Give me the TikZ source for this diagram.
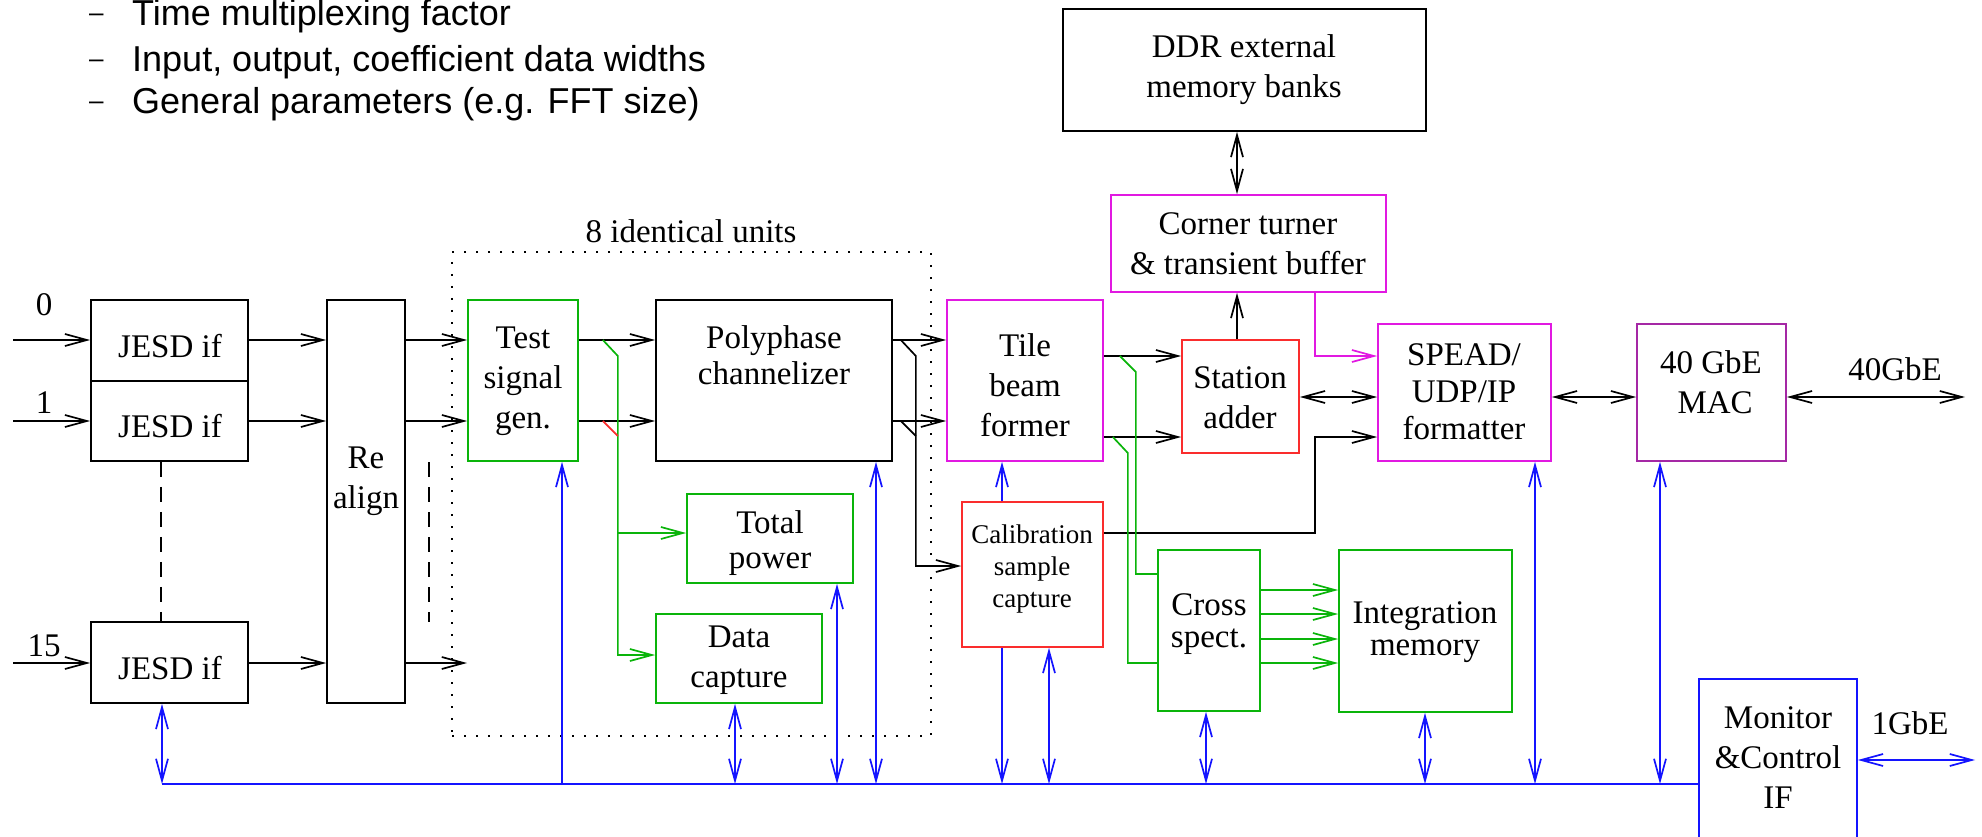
\documentclass[tikz,border=0pt]{standalone}
\usepackage{fontspec}
\setmainfont{Liberation Serif}
\newfontfamily\sansf{Liberation Sans}
\usetikzlibrary{arrows.meta,fit,calc}
\definecolor{xgreen}{RGB}{10,180,10}
\definecolor{xred}{RGB}{250,45,45}
\definecolor{xmag}{RGB}{225,25,225}
\definecolor{xpurp}{RGB}{165,40,165}
\definecolor{xblue}{RGB}{20,20,255}
\begin{document}
\begin{tikzpicture}[x=1pt,y=-1pt,
  box/.style={draw,inner sep=0pt,line width=1.7pt},
  lbl/.style={font=\fontsize{33}{40}\selectfont,align=center,inner sep=0pt,anchor=base},
  dsh/.style={anchor=base west,inner sep=0pt,font=\sansf\fontsize{26}{28}\selectfont},
  wire/.style={line width=1.7pt},
  >={Straight Barb[length=22pt,width=12pt]},
]
\useasboundingbox (0,0) rectangle (1982,837);
\clip (0,0) rectangle (1982,837);

% top text
\node[dsh] (d1) at (89,26) {\raisebox{4pt}{–}};
\node[dsh] (d2) at (89,72) {\raisebox{4pt}{–}};
\node[dsh] (d3) at (89,114) {\raisebox{4pt}{–}};
\node[anchor=base west,inner sep=0pt,font=\sansf\fontsize{36}{40}\selectfont] (t1) at (132,26) {Time multiplexing factor};
\node[anchor=base west,inner sep=0pt,font=\sansf\fontsize{36}{40}\selectfont] (t2) at (132,72) {Input, output, coefficient data widths};
\node[anchor=base west,inner sep=0pt,font=\sansf\fontsize{36}{40}\selectfont] (t3) at (132,114) {General parameters (e.g. FFT size)};

% boxes
\node[box,fit={(91,300)(248,381)}] (j0) {};
\node[box,fit={(91,381)(248,461)}] (j1) {};
\node[box,fit={(91,622)(248,703)}] (j15) {};
\node[box,fit={(327,300)(405,703)}] (ra) {};
\node[box,draw=xgreen,fit={(468,300)(578,461)}] (tsg) {};
\node[box,fit={(656,300)(892,461)}] (pc) {};
\node[box,draw=xgreen,fit={(687,494)(853,583)}] (tp) {};
\node[box,draw=xgreen,fit={(656,614)(822,703)}] (dc) {};
\node[box,draw=xmag,fit={(947,300)(1103,461)}] (tbf) {};
\node[box,draw=xred,fit={(962,502)(1103,647)}] (cal) {};
\node[box,draw=xred,fit={(1182,340)(1299,453)}] (sa) {};
\node[box,draw=xmag,fit={(1111,195)(1386,292)}] (ct) {};
\node[box,fit={(1063,9)(1426,131)}] (ddr) {};
\node[box,draw=xmag,fit={(1378,324)(1551,461)}] (sp) {};
\node[box,draw=xpurp,fit={(1637,324)(1786,461)}] (mac) {};
\node[box,draw=xgreen,fit={(1158,550)(1260,711)}] (cs) {};
\node[box,draw=xgreen,fit={(1339,550)(1512,712)}] (im) {};
\node[box,draw=xblue,fit={(1699,679)(1857,880)}] (mc) {};
\node[draw,inner sep=0pt,line width=2pt,dash pattern=on 2pt off 10pt,fit={(452,252)(931,736)}] (grp) {};

% texts (anchor = baseline of last line)
\node[lbl] (tj0) at (170,357) {JESD if};
\node[lbl] (tj1) at (170,437) {JESD if};
\node[lbl] (tj15) at (170,679) {JESD if};
\node[lbl] (tra) at (366,508) {Re\\align};
\node[lbl,font=\fontsize{33}{40}\selectfont] (ttsg) at (523,428) {Test\\signal\\gen.};
\node[lbl,font=\fontsize{33}{36}\selectfont] (tpc) at (774,384) {Polyphase\\channelizer};
\node[lbl,font=\fontsize{33}{35}\selectfont] (ttp) at (770,568) {Total\\power};
\node[lbl] (tdc) at (739,687) {Data\\capture};
\node[lbl] (ttbf) at (1025,436) {Tile\\beam\\former};
\node[lbl,font=\fontsize{27}{32}\selectfont] (tcal) at (1032,607) {Calibration\\sample\\capture};
\node[lbl] (tsa) at (1240,428) {Station\\adder};
\node[lbl] (tct) at (1248,275) {Corner turner\\\& transient buffer};
\node[lbl] (tddr) at (1244,98) {DDR external\\memory banks};
\node[lbl,font=\fontsize{33}{37}\selectfont] (tsp) at (1464,439) {SPEAD/\\UDP/IP\\formatter};
\node[lbl] (tmac) at (1711,413) {40 GbE\\\ MAC};
\node[lbl,font=\fontsize{33}{32}\selectfont] (tcs) at (1209,647) {Cross\\spect.};
\node[lbl,font=\fontsize{33}{32}\selectfont] (tim) at (1425,655) {Integration\\memory};
\node[lbl] (tmc) at (1778,808) {Monitor\\\&Control\\IF};
\node[lbl] (l0) at (44,316) {0};
\node[lbl] (l1) at (44,413) {1};
\node[lbl] (l15) at (44,656) {15};
\node[lbl] (lg) at (691,243) {8 identical units};
\node[lbl] (l40) at (1895,380) {40GbE};
\node[lbl] (l1g) at (1910,734) {1GbE};

% coordinates
\coordinate (i0) at (13,340);
\coordinate (i1) at (13,421);
\coordinate (i15) at (13,663);
\coordinate (o15) at (467,663);
\coordinate (cin) at (0,566);
\coordinate (gd) at (0,655);
\coordinate (gt) at (617,533);
\coordinate (b1) at (0,356);
\coordinate (b2) at (0,437);
\coordinate (c1) at (0,574);
\coordinate (c4) at (0,663);
\coordinate (vx) at (1237,0);
\coordinate (m) at (0,397);
\coordinate (out40) at (1965,397);
\coordinate (k) at (1315,533);
\coordinate (dd1) at (429,462);
\coordinate (dd2) at (429,622);

% black data paths
\draw[wire,->] (i0) -- (i0 -| j0.west);
\draw[wire,->] (i1) -- (i1 -| j1.west);
\draw[wire,->] (i15) -- (i15 -| j15.west);
\draw[wire,->] (i0 -| j0.east) -- (i0 -| ra.west);
\draw[wire,->] (i1 -| j1.east) -- (i1 -| ra.west);
\draw[wire,->] (i15 -| j15.east) -- (i15 -| ra.west);
\draw[wire,->] (i0 -| ra.east) -- (i0 -| tsg.west);
\draw[wire,->] (i1 -| ra.east) -- (i1 -| tsg.west);
\draw[wire,->] (i15 -| ra.east) -- (o15);
\draw[wire,dash pattern=on 15pt off 10pt] ($(j1.south west)+(71,0)$) -- ($(j15.north west)+(71,0)$);
\draw[wire,dash pattern=on 15pt off 10pt] (dd1) -- (dd2);
\draw[wire,->] (i0 -| tsg.east) -- (i0 -| pc.west);
\draw[wire,->] (i1 -| tsg.east) -- (i1 -| pc.west);
\draw[wire,->] (i0 -| pc.east) -- (i0 -| tbf.west);
\draw[wire,->] (i1 -| pc.east) -- (i1 -| tbf.west);
\draw[wire,->] ($(i0 -| pc.east)+(8,0)$) -- ++(15,16) -- ++(0,210) -- (cal.west |- cin);
\draw[wire] ($(i1 -| pc.east)+(8,0)$) -- ++(15,15);
\draw[wire,->] (tbf.east |- b1) -- (sa.west |- b1);
\draw[wire,->] (tbf.east |- b2) -- (sa.west |- b2);
\draw[wire,->] (vx |- sa.north) -- (vx |- ct.south);
\draw[wire,<->] (vx |- ddr.south) -- (vx |- ct.north);
\draw[wire,<->] (sa.east |- m) -- (sp.west |- m);
\draw[wire,<->] (sp.east |- m) -- (mac.west |- m);
\draw[wire,<->] (mac.east |- m) -- (out40);
\draw[wire,->] (cal.east |- k) -- (k) -- (k |- b2) -- (sp.west |- b2);
\draw[wire,xmag,->] (k |- ct.south) -- (k |- b1) -- (sp.west |- b1);

% green / red paths
\draw[wire,xgreen,->] ($(i0 -| tsg.east)+(24,0)$) -- ++(15,16) -- ++(0,299) -- (dc.west |- gd);
\draw[wire,xgreen,->] (gt) -- (gt -| tp.west);
\draw[wire,xred] ($(i1 -| tsg.east)+(24,0)$) -- ++(15,15);
\draw[wire,xgreen] ($(tbf.east |- b1)+(16,0)$) -- ++(16,16) -- ++(0,202) -- (cs.west |- c1);
\draw[wire,xgreen] ($(tbf.east |- b2)+(9,0)$) -- ++(15,16) -- ++(0,210) -- (cs.west |- c4);
\foreach \yy in {590,614,639,663}
  \draw[wire,xgreen,->] (cs.east |- 0,\yy) -- (im.west |- 0,\yy);

% blue control bus
\coordinate (bx0) at (162,784);
\coordinate (bts) at (562,784);
\coordinate (bdc) at (735,784);
\coordinate (btp) at (837,784);
\coordinate (bpc) at (876,784);
\coordinate (bc1) at (1002,784);
\coordinate (bc2) at (1049,784);
\coordinate (bcs) at (1206,784);
\coordinate (bim) at (1425,784);
\coordinate (bsp) at (1535,784);
\coordinate (bmac) at (1660,784);
\coordinate (g1) at (1975,760);
\draw[wire,xblue] (bx0) -- (mc.west |- bx0);
\draw[wire,xblue,<->] (bx0) -- (bx0 |- j15.south);
\draw[wire,xblue,->] (bts) -- (bts |- tsg.south);
\draw[wire,xblue,<->] (bdc) -- (bdc |- dc.south);
\draw[wire,xblue,<->] (btp) -- (btp |- tp.south);
\draw[wire,xblue,<->] (bpc) -- (bpc |- pc.south);
\draw[wire,xblue,->] (bc1 |- cal.south) -- (bc1);
\draw[wire,xblue,->] (bc1 |- cal.north) -- (bc1 |- tbf.south);
\draw[wire,xblue,<->] (bc2) -- (bc2 |- cal.south);
\draw[wire,xblue,<->] (bcs) -- (bcs |- cs.south);
\draw[wire,xblue,<->] (bim) -- (bim |- im.south);
\draw[wire,xblue,<->] (bsp) -- (bsp |- sp.south);
\draw[wire,xblue,<->] (bmac) -- (bmac |- mac.south);
\draw[wire,xblue,<->] (mc.east |- g1) -- (g1);
\end{tikzpicture}
\end{document}
